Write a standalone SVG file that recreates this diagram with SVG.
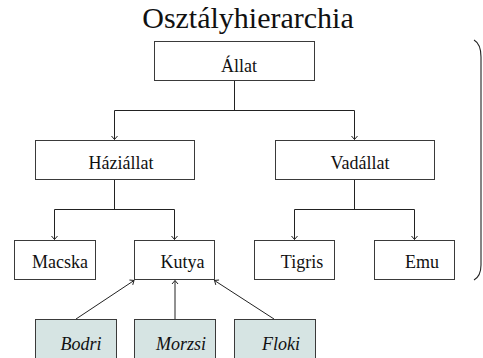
<svg xmlns="http://www.w3.org/2000/svg" width="483" height="358" viewBox="0 0 483 358">
  <defs>
    <marker id="tip" markerUnits="userSpaceOnUse" markerWidth="10" markerHeight="10" refX="0" refY="0" viewBox="-6 -5 10 10" orient="auto">
      <path d="M-3.5,-3 L0,0 L-3.5,3" fill="none" stroke="#222" stroke-width="1"/>
    </marker>
  </defs>
  <style>
    .box { fill: #ffffff; stroke: #3a3a3a; stroke-width: 1; }
    .inst { fill: #d6e4e3; stroke: #3a3a3a; stroke-width: 1; }
    .lbl { font-family: "Liberation Serif", "DejaVu Serif", serif; font-size: 18px; fill: #111; text-anchor: middle; }
    .it { font-style: italic; }
    .ttl { font-family: "Liberation Serif", "DejaVu Serif", serif; font-size: 30px; fill: #111; text-anchor: middle; }
    .wire { fill: none; stroke: #222; stroke-width: 1; }
    .arr { fill: none; stroke: #222; stroke-width: 1; marker-end: url(#tip); }
  </style>
  <rect width="483" height="358" fill="#ffffff"/>

  <text class="ttl" x="248" y="28">Osztályhierarchia</text>

  <!-- connectors -->
  <g id="connectors">
    <path class="wire" d="M234.5,80 V110.5 M114.5,110.5 H354.5"/>
    <path class="arr" d="M114.5,110.5 V139.5"/>
    <path class="arr" d="M354.5,110.5 V139.5"/>
    <path class="wire" d="M114.5,180 V209.5 M54.5,209.5 H174.5"/>
    <path class="arr" d="M54.5,209.5 V239.5"/>
    <path class="arr" d="M174.5,209.5 V239.5"/>
    <path class="wire" d="M354.5,180 V209.5 M294.5,209.5 H414.5"/>
    <path class="arr" d="M294.5,209.5 V239.5"/>
    <path class="arr" d="M414.5,209.5 V239.5"/>
    <path class="arr" d="M76,319 L134,280.5"/>
    <path class="arr" d="M175,319 V280.5"/>
    <path class="arr" d="M274,319 L214.5,280.5"/>
  </g>

  <g id="allat">
    <rect class="box" x="154.5" y="41.5" width="160" height="39"/>
    <text class="lbl" x="239" y="72">Állat</text>
  </g>
  <g id="haziallat">
    <rect class="box" x="35.5" y="140.5" width="159" height="39"/>
    <text class="lbl" x="121" y="169">Háziállat</text>
  </g>
  <g id="vadallat">
    <rect class="box" x="275.5" y="140.5" width="159" height="39"/>
    <text class="lbl" x="360" y="169">Vadállat</text>
  </g>
  <g id="macska">
    <rect class="box" x="14.5" y="240.5" width="81" height="39"/>
    <text class="lbl" x="60" y="268">Macska</text>
  </g>
  <g id="kutya">
    <rect class="box" x="134.5" y="240.5" width="80" height="39"/>
    <text class="lbl" x="182.5" y="268">Kutya</text>
  </g>
  <g id="tigris">
    <rect class="box" x="254.5" y="240.5" width="80" height="39"/>
    <text class="lbl" x="302" y="268">Tigris</text>
  </g>
  <g id="emu">
    <rect class="box" x="374.5" y="240.5" width="80" height="39"/>
    <text class="lbl" x="422" y="268">Emu</text>
  </g>
  <g id="bodri">
    <rect class="inst" x="35.5" y="319.5" width="81" height="45"/>
    <text class="lbl it" x="81" y="350">Bodri</text>
  </g>
  <g id="morzsi">
    <rect class="inst" x="134.5" y="319.5" width="81" height="45"/>
    <text class="lbl it" x="181" y="350">Morzsi</text>
  </g>
  <g id="floki">
    <rect class="inst" x="234.5" y="319.5" width="81" height="45"/>
    <text class="lbl it" x="281" y="350">Floki</text>
  </g>

  <!-- closing brace on the right -->
  <path d="M474,40 Q481,44 481,57 L481,265 Q481,276 474,280" fill="none" stroke="#222" stroke-width="1.1"/>
</svg>
